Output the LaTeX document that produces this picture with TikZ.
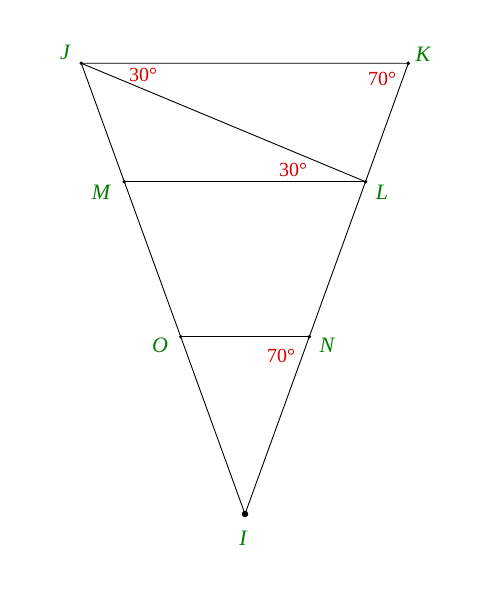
\documentclass[tikz,border=0pt]{standalone}
\usepackage{fontspec}
\setmainfont{Liberation Serif}
\begin{document}
\begin{tikzpicture}[x=1pt,y=-1pt,
  seg/.style={draw=black,line width=0.9pt},
  pt/.style={circle,fill=black,inner sep=0pt,minimum size=3.8pt},
  bigpt/.style={circle,fill=black,inner sep=0pt,minimum size=6.5pt},
  lbl/.style={text=green!50!black,font=\fontsize{22}{26}\selectfont\itshape},
  ang/.style={text=red!85!black,font=\fontsize{20}{24}\selectfont}]
\useasboundingbox[fill=white] (0,0) rectangle (495,607);
\node[pt] (J) at (81.3,63.3) {};
\node[pt] (K) at (408.3,63.3) {};
\node[pt] (M) at (124.3,181.7) {};
\node[pt] (L) at (365.5,181.7) {};
\node[pt] (O) at (180.7,336.7) {};
\node[pt] (N) at (309.3,336.7) {};
\node[bigpt] (I) at (245,514) {};
\draw[seg] (J.center) -- (K.center) -- (L.center) -- (N.center) -- (I.center) -- (O.center) -- (M.center) -- (J.center);
\draw[seg] (J.center) -- (L.center);
\draw[seg] (M.center) -- (L.center);
\draw[seg] (O.center) -- (N.center);
\node[lbl] (tJ) at (65,52.7) {J};
\node[lbl] (tK) at (423,54) {K};
\node[lbl] (tM) at (101,192) {M};
\node[lbl] (tL) at (382,192) {L};
\node[lbl] (tO) at (160,345) {O};
\node[lbl] (tN) at (327,345) {N};
\node[lbl] (tI) at (243,538) {I};
\node[ang] (a1) at (143,75) {30°};
\node[ang] (a2) at (382,79) {70°};
\node[ang] (a3) at (293,170) {30°};
\node[ang] (a4) at (281,356) {70°};
\end{tikzpicture}
\end{document}
